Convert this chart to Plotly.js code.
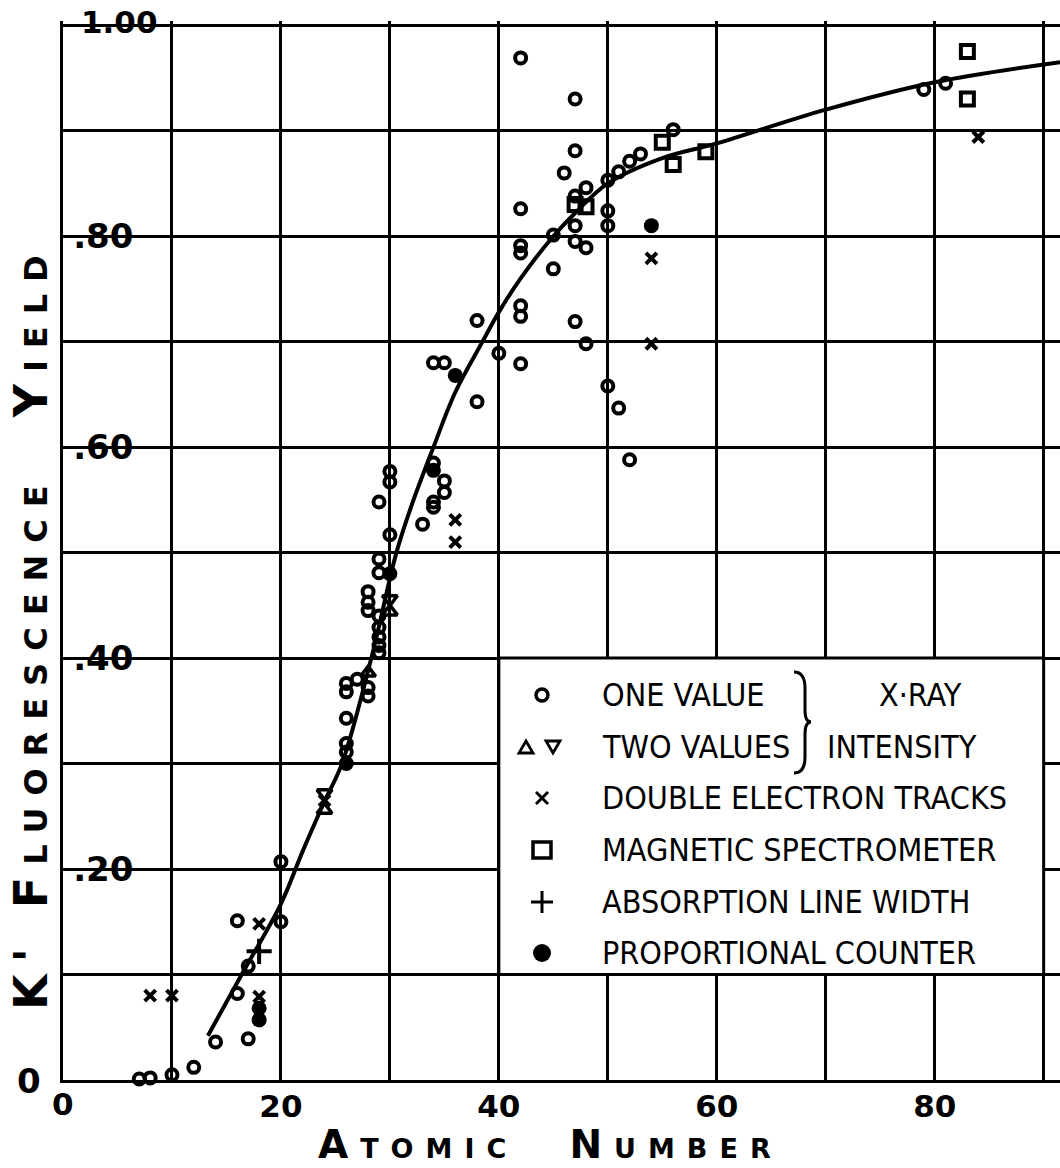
<!DOCTYPE html>
<html><head><meta charset="utf-8">
<script src="https://cdn.plot.ly/plotly-3.0.1.min.js"></script>
<style>html,body{margin:0;padding:0;background:#fff}#chart{width:1060px;height:1168px}</style>
</head><body><div id="chart"></div>
<script>
// ---- data ----
const oneValueZ = [6,7,8,10,12,14,17,16,17,16,20,20,
  26,26,26,26,26,27,28,28,28,28,28,
  29,29,29,29,29,29,29,29,
  30,30,30,33,34,34,34,34,35,35,35,
  38,38,40,
  42,42,42,42,42,42,42,
  45,45,46,47,47,47,47,47,47,
  48,48,48,
  50,50,50,50,51,51,52,52,53,56,79,81];
const oneValueY = [-0.004,0.001,0.002,0.005,0.012,0.036,0.039,0.082,0.108,0.151,0.150,0.207,
  0.311,0.319,0.343,0.368,0.376,0.380,0.364,0.372,0.445,0.453,0.463,
  0.405,0.412,0.420,0.429,0.440,0.481,0.494,0.548,
  0.517,0.567,0.577,0.527,0.680,0.548,0.543,0.585,0.680,0.568,0.557,
  0.643,0.720,0.689,
  0.969,0.826,0.791,0.784,0.734,0.724,0.679,
  0.801,0.769,0.860,0.930,0.881,0.838,0.810,0.795,0.719,
  0.846,0.789,0.698,
  0.853,0.824,0.810,0.658,0.861,0.637,0.871,0.588,0.878,0.901,0.939,0.945];

const twoValuesUpZ = [24,28,30];
const twoValuesUpY = [0.256,0.386,0.444];
const twoValuesDownZ = [24,30];
const twoValuesDownY = [0.272,0.456];

const doubleElectronZ = [8,10,18,18,24,36,36,54,54,84];
const doubleElectronY = [0.080,0.080,0.148,0.079,0.265,0.531,0.510,0.779,0.698,0.894];

const magneticZ = [47,48,55,56,59,83,83];
const magneticY = [0.830,0.828,0.889,0.868,0.880,0.975,0.930];

const absorptionZ = [18];
const absorptionY = [0.122];

const proportionalZ = [18,18,26,30,34,36,54];
const proportionalY = [0.068,0.057,0.300,0.480,0.578,0.668,0.810];

const curveZ = [13.3,16.4,20,22,24,25.6,28.3,30.6,32,34,36,38.5,40,42,45,47,50,55,60,70,80,91.5];
const curveY = [0.042,0.10,0.167,0.217,0.264,0.30,0.40,0.50,0.545,0.60,0.652,0.70,0.728,0.76,0.80,0.822,0.85,0.874,0.888,0.92,0.946,0.965];

const xTickVals = [0,10,20,30,40,50,60,70,80,90];
const xTickText = ['','','20','','40','','60','','80',''];
const yTickVals = [0,0.1,0.2,0.3,0.4,0.5,0.6,0.7,0.8,0.9,1.0];
const yTickText = ['','','.20','','.40','','.60','','.80','',''];

const legendLabels = ['ONE VALUE','TWO VALUES','DOUBLE ELECTRON TRACKS','MAGNETIC SPECTROMETER','ABSORPTION LINE WIDTH','PROPORTIONAL COUNTER'];
const groupLabels = ['X·RAY','INTENSITY'];
const xTitle = 'Atomic  Number';
const yTitle = 'K\' Fluorescence  Yield';

// ---- layout helpers (pixel -> paper) ----
const PL = 63, PT = 21, PW = 997, PH = 1059;
const px = x => (x - PL) / PW;
const py = y => (PT + PH - y) / PH;
const K = 'black';
const numFont = {family: 'DejaVu Sans, sans-serif', size: 34, color: K, weight: 'bold'};
const xNumFont = {family: 'DejaVu Sans, sans-serif', size: 31, color: K, weight: 'bold'};
const legFont = {family: '"Liberation Sans Narrow", "DejaVu Sans Condensed", Roboto, sans-serif', size: 32, color: K};

const mk = (z, y, marker) => ({type: 'scatter', mode: 'markers', x: z, y: y, cliponaxis: false, marker: marker, hoverinfo: 'skip'});

const traces = [
  {type: 'scatter', mode: 'lines', x: curveZ, y: curveY, line: {color: K, width: 4, shape: 'spline', smoothing: 1}, hoverinfo: 'skip'},
  mk(oneValueZ, oneValueY, {symbol: 'circle-open', size: 11, color: K, line: {width: 4, color: K}}),
  mk(twoValuesUpZ, twoValuesUpY, {symbol: 'triangle-up-open', size: 13, color: K, line: {width: 3.5, color: K}}),
  mk(twoValuesDownZ, twoValuesDownY, {symbol: 'triangle-down-open', size: 13, color: K, line: {width: 3.5, color: K}}),
  mk(doubleElectronZ, doubleElectronY, {symbol: 'x-thin-open', size: 11, color: K, line: {width: 4, color: K}}),
  mk(magneticZ, magneticY, {symbol: 'square-open', size: 13, color: K, line: {width: 4, color: K}}),
  mk(absorptionZ, absorptionY, {symbol: 'cross-thin-open', size: 18, color: K, line: {width: 4, color: K}}),
  mk(proportionalZ, proportionalY, {symbol: 'circle', size: 15, color: K, line: {width: 0}})
];

const shapes = [];
// legend box (covers the grid inside it)
shapes.push({type: 'rect', xref: 'x', yref: 'y', x0: 40, x1: 90, y0: 0.1, y1: 0.4, fillcolor: 'white', line: {color: K, width: 3}, layer: 'between'});
// white patches behind y tick labels
[0.2, 0.4, 0.6, 0.8].forEach(v => shapes.push({type: 'rect', xref: 'paper', yref: 'y', x0: px(76), x1: px(150), y0: v - 0.016, y1: v + 0.016, fillcolor: 'white', line: {width: 0}, layer: 'between'}));
shapes.push({type: 'rect', xref: 'paper', yref: 'y', x0: px(71), x1: px(160), y0: 0.98, y1: 1.01, fillcolor: 'white', line: {width: 0}, layer: 'between'});

// legend symbols
const rowY = [695, 747, 798, 850, 902, 953];
const symX = 542;
const P = (pts, close) => 'M ' + pts.map(p => px(p[0]) + ',' + py(p[1])).join(' L ') + (close ? ' Z' : '');
const sline = w => ({color: K, width: w});
shapes.push({type: 'circle', xref: 'paper', yref: 'paper', x0: px(symX - 6), x1: px(symX + 6), y0: py(rowY[0] + 6), y1: py(rowY[0] - 6), line: sline(3.5), layer: 'above'});
shapes.push({type: 'path', xref: 'paper', yref: 'paper', path: P([[519, rowY[1] + 6], [533, rowY[1] + 6], [526, rowY[1] - 6]], true), line: sline(2.8), layer: 'above'});
shapes.push({type: 'path', xref: 'paper', yref: 'paper', path: P([[546, rowY[1] - 6], [560, rowY[1] - 6], [553, rowY[1] + 6]], true), line: sline(2.8), layer: 'above'});
shapes.push({type: 'path', xref: 'paper', yref: 'paper', path: P([[symX - 6, rowY[2] - 6], [symX + 6, rowY[2] + 6]]), line: sline(3), layer: 'above'});
shapes.push({type: 'path', xref: 'paper', yref: 'paper', path: P([[symX - 6, rowY[2] + 6], [symX + 6, rowY[2] - 6]]), line: sline(3), layer: 'above'});
shapes.push({type: 'rect', xref: 'paper', yref: 'paper', x0: px(symX - 9), x1: px(symX + 9), y0: py(rowY[3] + 8), y1: py(rowY[3] - 8), line: sline(3.5), layer: 'above'});
shapes.push({type: 'path', xref: 'paper', yref: 'paper', path: P([[symX - 11, rowY[4]], [symX + 11, rowY[4]]]), line: sline(3), layer: 'above'});
shapes.push({type: 'path', xref: 'paper', yref: 'paper', path: P([[symX, rowY[4] - 11], [symX, rowY[4] + 11]]), line: sline(3), layer: 'above'});
shapes.push({type: 'circle', xref: 'paper', yref: 'paper', x0: px(symX - 9), x1: px(symX + 9), y0: py(rowY[5] + 9), y1: py(rowY[5] - 9), fillcolor: K, line: sline(0), layer: 'above'});
// brace
const bx = 794, by0 = 672, by1 = 773, bm = 722;
const braceP = 'M ' + px(bx) + ',' + py(by0) +
  ' Q ' + px(bx + 11) + ',' + py(by0) + ' ' + px(bx + 11) + ',' + py(by0 + 16) +
  ' L ' + px(bx + 11) + ',' + py(bm - 12) +
  ' Q ' + px(bx + 11) + ',' + py(bm) + ' ' + px(bx + 17) + ',' + py(bm) +
  ' Q ' + px(bx + 11) + ',' + py(bm) + ' ' + px(bx + 11) + ',' + py(bm + 12) +
  ' L ' + px(bx + 11) + ',' + py(by1 - 16) +
  ' Q ' + px(bx + 11) + ',' + py(by1) + ' ' + px(bx) + ',' + py(by1);
shapes.push({type: 'path', xref: 'paper', yref: 'paper', path: braceP, line: sline(3), layer: 'above'});

const annotations = [];
legendLabels.forEach((t, i) => annotations.push({xref: 'paper', yref: 'paper', x: px(600), y: py(rowY[i]), xanchor: 'left', yanchor: 'middle', text: t, showarrow: false, font: legFont}));
annotations.push({xref: 'paper', yref: 'paper', x: px(920), y: py(rowY[0]), xanchor: 'center', yanchor: 'middle', text: groupLabels[0], showarrow: false, font: legFont});
annotations.push({xref: 'paper', yref: 'paper', x: px(902), y: py(rowY[1]), xanchor: 'center', yanchor: 'middle', text: groupLabels[1], showarrow: false, font: legFont});
// tick labels at the axis ends
annotations.push({xref: 'paper', yref: 'paper', x: px(79), y: py(22), xanchor: 'left', yanchor: 'middle', text: '1.00', showarrow: false, font: {family: 'DejaVu Sans, sans-serif', size: 31, color: K, weight: 'bold'}});
annotations.push({xref: 'paper', yref: 'paper', x: px(29), y: py(1081), xanchor: 'center', yanchor: 'middle', text: '0', showarrow: false, font: numFont});
annotations.push({xref: 'x', yref: 'paper', x: 0, y: py(1104), xanchor: 'center', yanchor: 'middle', text: '0', showarrow: false, font: xNumFont});
// axis titles
annotations.push({xref: 'paper', yref: 'paper', x: px(31), y: py(627), xanchor: 'center', yanchor: 'middle', textangle: -90,
  text: '<span style="letter-spacing:12px">' + yTitle + '</span>', showarrow: false,
  font: {family: 'DejaVu Sans, sans-serif', size: 46, color: K, variant: 'small-caps', weight: 'bold'}});
annotations.push({xref: 'paper', yref: 'paper', x: px(550), y: py(1144), xanchor: 'center', yanchor: 'middle',
  text: '<span style="letter-spacing:12px">' + xTitle + '</span>', showarrow: false,
  font: {family: 'DejaVu Sans, sans-serif', size: 39, color: K, variant: 'small-caps', weight: 'bold'}});

const layout = {
  width: 1060, height: 1168,
  margin: {l: PL, r: 0, t: PT, b: 1168 - PT - PH},
  paper_bgcolor: 'white', plot_bgcolor: 'white', showlegend: false,
  xaxis: {range: [0, 91.5], tickvals: xTickVals, ticktext: xTickText, ticks: '', showgrid: true, gridcolor: K, gridwidth: 3,
    showline: true, linecolor: K, linewidth: 3, zeroline: false, tickfont: xNumFont, ticklabelstandoff: -3},
  yaxis: {range: [0, 1.004], tickvals: yTickVals, ticktext: yTickText, ticks: '', showgrid: true, gridcolor: K, gridwidth: 3,
    showline: true, linecolor: K, linewidth: 3, zeroline: false, ticklabelposition: 'inside', ticklabelstandoff: 14,
    tickfont: numFont},
  shapes: shapes, annotations: annotations
};

Plotly.newPlot('chart', traces, layout, {displayModeBar: false, staticPlot: true});
</script></body></html>
